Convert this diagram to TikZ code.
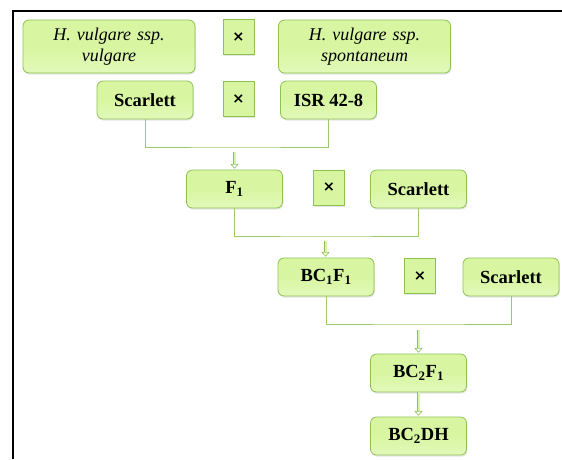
\documentclass[tikz,border=0pt]{standalone}
\usepackage{fontspec}
\setmainfont{Liberation Serif}
\newfontfamily\crossfont{DejaVu Sans}
\usepackage{tikz}
\usetikzlibrary{arrows.meta,shadows}

\definecolor{boxfill}{RGB}{216,246,162}
\definecolor{boxpale}{RGB}{226,249,185}
\definecolor{boxline}{RGB}{140,195,80}
\definecolor{linkline}{RGB}{155,202,105}

\begin{document}
\begin{tikzpicture}[x=1pt, y=-1pt,
	box/.style={draw=boxline, line width=0.8pt, rounded corners=6pt,
		top color=boxfill, bottom color=boxpale, middle color=boxfill,
		drop shadow={opacity=0.2, shadow xshift=0.8pt, shadow yshift=-1.6pt},
		minimum width=96pt, minimum height=38pt, inner sep=2pt,
		font=\fontsize{18.5}{21}\selectfont\bfseries},
	wide/.style={box, minimum width=172pt, minimum height=53pt,
		text width=160pt, align=center,
		font=\fontsize{18}{21}\selectfont\itshape},
	cross/.style={draw=boxline, line width=0.8pt, fill=boxfill,
		drop shadow={opacity=0.2, shadow xshift=0.8pt, shadow yshift=-1.6pt},
		minimum width=31pt, minimum height=35pt, inner sep=0pt,
		font=\fontsize{14.5}{14.5}\crossfont\bfseries},
	link/.style={draw=linkline, line width=0.8pt},
	flow/.style={draw=boxline, line width=0.6pt, double=boxfill, double distance=2pt,
		-{Triangle[open, length=4.5pt, width=8pt]}, shorten >=1pt}]
\useasboundingbox (0,0) rectangle (562,459);
\draw[line width=1.8pt] (13,459) -- (13,11) -- (562,11);
% parents
\node[wide] (vulg) at (109,46.5) {H. vulgare ssp.\\ vulgare};
\node[cross] (cross1) at (238.5,37) {×};
\node[wide] (spont) at (364.5,46.5) {H. vulgare ssp.\\ spontaneum};
\node[box] (scar1) at (145,100) {Scarlett};
\node[cross] (cross2) at (238.5,99) {×};
\node[box] (isr) at (328.5,100) {ISR 42-8};
% first cross
\node[box] (fone) at (234.5,189) {F\textsubscript{1}};
\node[cross] (cross3) at (329,187.5) {×};
\node[box] (scar2) at (418.5,189) {Scarlett};
% backcross 1
\node[box] (bcone) at (326,277) {BC\textsubscript{1}F\textsubscript{1}};
\node[cross] (cross4) at (420,276) {×};
\node[box] (scar3) at (511,277) {Scarlett};
% backcross 2
\node[box] (bctwo) at (418.5,373) {BC\textsubscript{2}F\textsubscript{1}};
\node[box] (bcdh) at (418.5,436) {BC\textsubscript{2}DH};

\coordinate (j1) at (234.5,147);
\coordinate (j2) at (325.5,236);
\coordinate (j3) at (418.5,324);
\draw[link] (scar1.south) |- (j1) -| (isr.south);
\draw[link] (fone.south) |- (j2) -| (scar2.south);
\draw[link] (bcone.south) |- (j3) -| (scar3.south);
\draw[flow] ([yshift=-5pt]j1) -- (fone.north);
\draw[flow] ([yshift=-5pt]j2) -- (bcone.north -| j2);
\draw[flow] ([yshift=-6pt]j3) -- (bctwo.north);
\draw[flow] (bctwo.south) -- (bcdh.north);
\end{tikzpicture}
\end{document}
